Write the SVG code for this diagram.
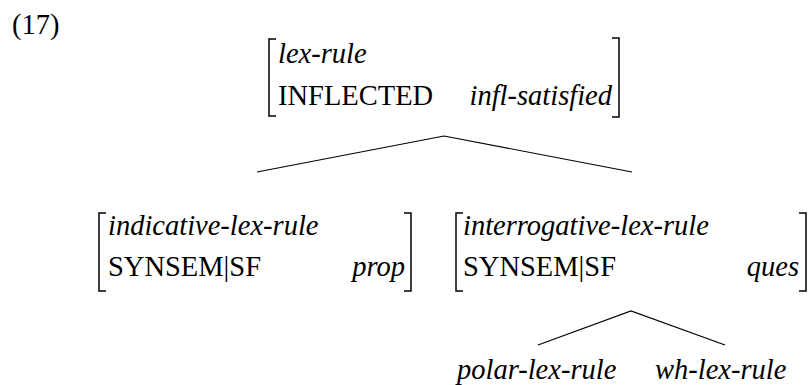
<svg xmlns="http://www.w3.org/2000/svg" width="808" height="385" viewBox="0 0 808 385">
<style>
.br{fill:none;stroke:#000;stroke-width:1.5}
.ln{fill:none;stroke:#000;stroke-width:1.2}
</style>
<defs>
<text id="t-lex" font-family="'Liberation Serif'" font-size="28.5" font-style="italic" fill="#000" x="278" y="63">lex-rule</text>
<text id="t-infl" font-family="'Liberation Serif'" font-size="28.5" fill="#000" x="278" y="105">INFLECTED</text>
<text id="t-sat" font-family="'Liberation Serif'" font-size="28.5" font-style="italic" text-anchor="end" fill="#000" x="612" y="105">infl-satisfied</text>
<text id="t-ind" font-family="'Liberation Serif'" font-size="28.5" font-style="italic" fill="#000" x="108" y="235">indicative-lex-rule</text>
<text id="t-ss1" font-family="'Liberation Serif'" font-size="28.5" fill="#000" x="108" y="276">SYNSEM|SF</text>
<text id="t-prop" font-family="'Liberation Serif'" font-size="28.5" font-style="italic" text-anchor="end" fill="#000" x="405" y="276">prop</text>
<text id="t-int" font-family="'Liberation Serif'" font-size="28.5" font-style="italic" fill="#000" x="463" y="235">interrogative-lex-rule</text>
<text id="t-ss2" font-family="'Liberation Serif'" font-size="28.5" fill="#000" x="463" y="276">SYNSEM|SF</text>
<text id="t-ques" font-family="'Liberation Serif'" font-size="28.5" font-style="italic" text-anchor="end" fill="#000" x="799" y="276">ques</text>
<text id="t-polar" font-family="'Liberation Serif'" font-size="28.5" font-style="italic" fill="#000" x="457" y="379">polar-lex-rule</text>
<text id="t-wh" font-family="'Liberation Serif'" font-size="28.5" font-style="italic" fill="#000" x="655" y="379">wh-lex-rule</text>
</defs>
<rect width="808" height="385" fill="#fff"/>
<text font-family="'Liberation Serif'" font-size="28.5" fill="#000" x="12" y="34">(17)</text>
<g id="lex-rule">
<path class="br" d="M276,39 H269 V116 H276"/>
<path class="br" d="M612,38 H619 V117 H612"/>
<use href="#t-lex"/>
<use href="#t-infl"/>
<use href="#t-sat"/>
</g>
<g id="indicative-lex-rule">
<path class="br" d="M106,213 H99 V291 H106"/>
<path class="br" d="M404,213 H411 V291 H404"/>
<use href="#t-ind"/>
<use href="#t-ss1"/>
<use href="#t-prop"/>
</g>
<g id="interrogative-lex-rule">
<path class="br" d="M463,213 H456 V291 H463"/>
<path class="br" d="M799,213 H806 V291 H799"/>
<use href="#t-int"/>
<use href="#t-ss2"/>
<use href="#t-ques"/>
</g>
<g id="polar-lex-rule">
<use href="#t-polar"/>
</g>
<g id="wh-lex-rule">
<use href="#t-wh"/>
</g>
<g id="connectors">
<path class="ln" d="M257,172 L444,136 L632,172"/>
<path class="ln" d="M538,345 L631,311 L725,345"/>
</g>
</svg>
